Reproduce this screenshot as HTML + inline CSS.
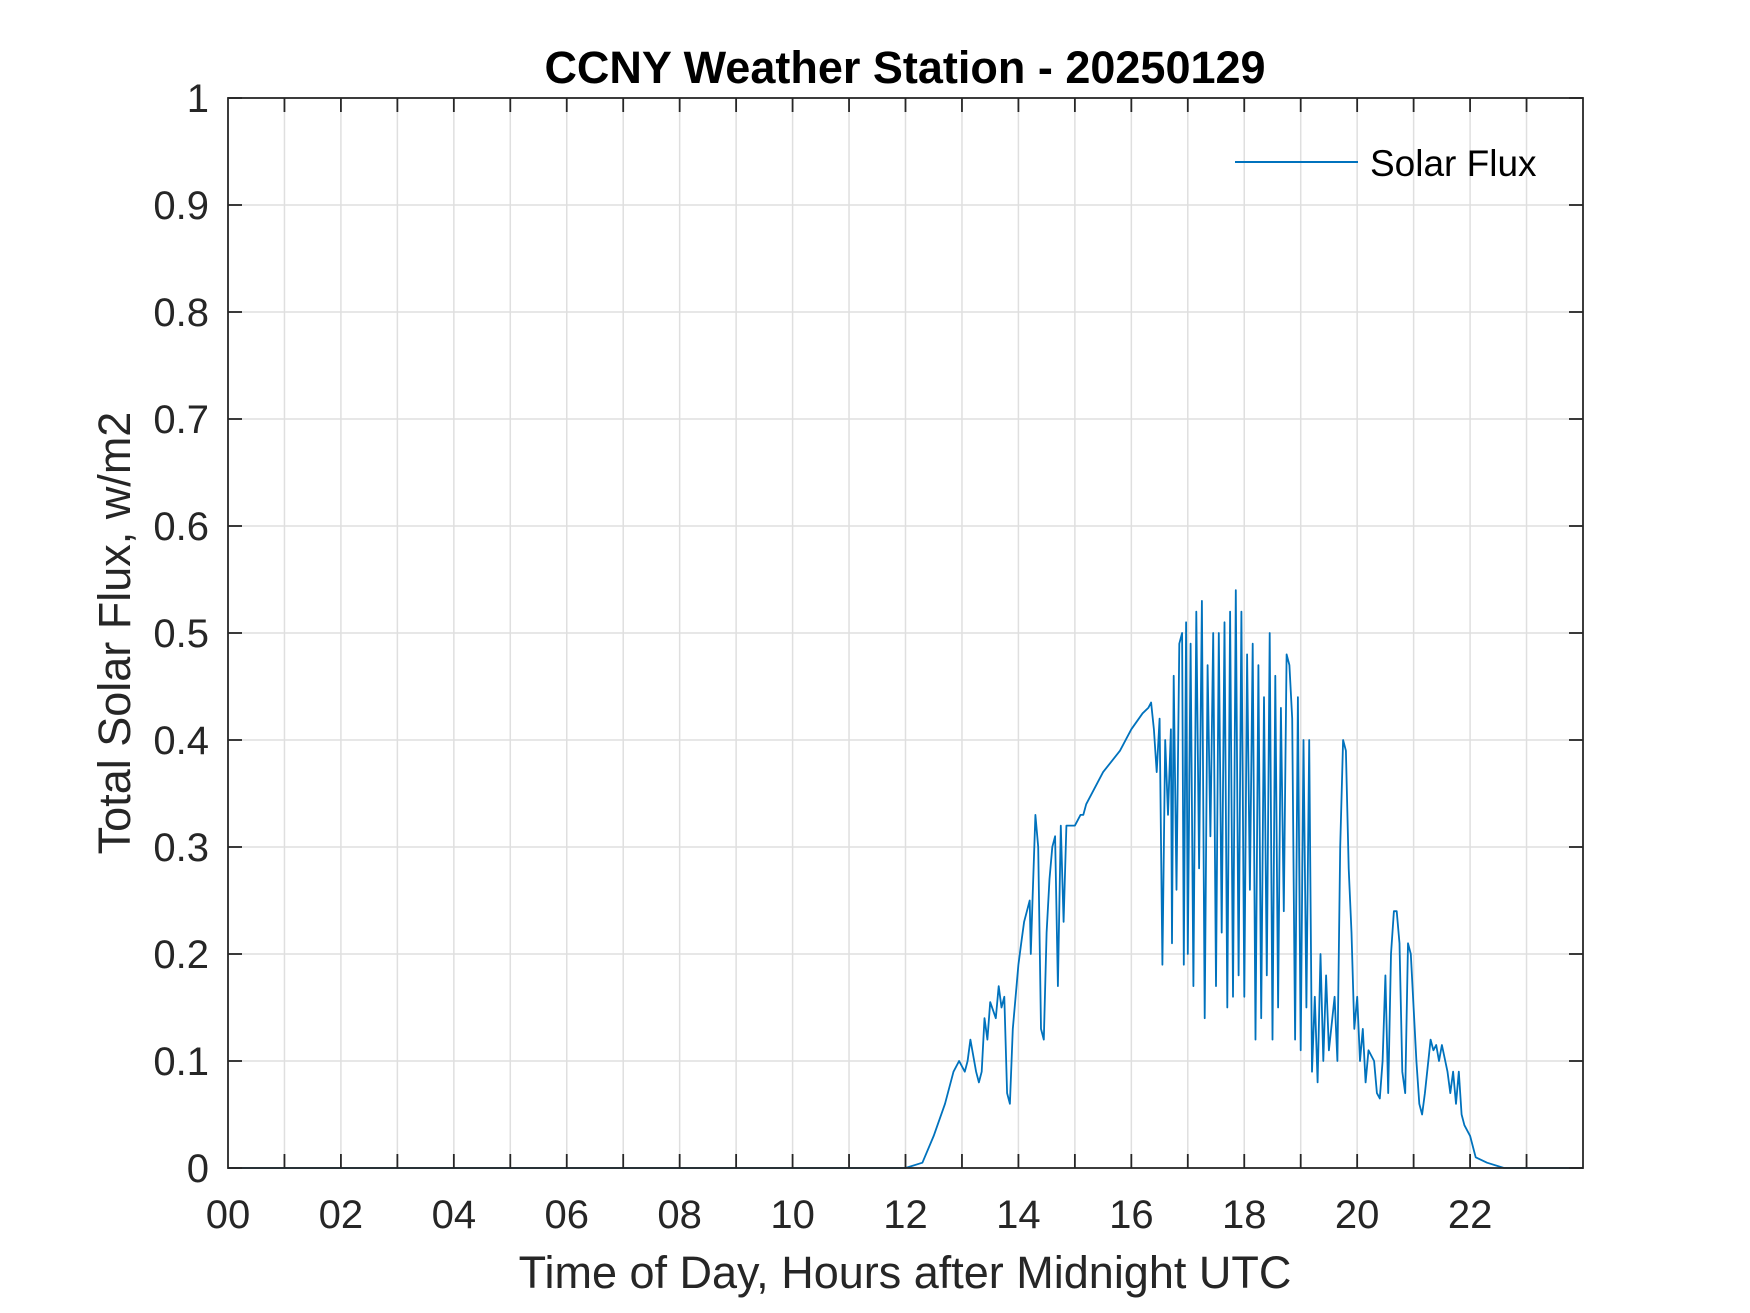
<!DOCTYPE html>
<html><head><meta charset="utf-8"><style>
html,body{margin:0;padding:0;background:#fff;}
svg{display:block;font-family:"Liberation Sans",Arial,sans-serif;}
</style></head><body>
<svg id="chart" width="1750" height="1313" viewBox="0 0 1750 1313" xmlns="http://www.w3.org/2000/svg">
<rect width="1750" height="1313" fill="#fff"/>
<g id="grid"></g>
<g id="series"></g>
<rect x="228" y="98" width="1355" height="1070" fill="none" stroke="#262626" stroke-width="1.8"/>
<g id="ticks"></g>
<text x="905" y="83" text-anchor="middle" font-size="45" font-weight="bold" fill="#000">CCNY Weather Station - 20250129</text>
<text x="905" y="1288" text-anchor="middle" font-size="45" fill="#262626">Time of Day, Hours after Midnight UTC</text>
<text transform="translate(130,633) rotate(-90)" text-anchor="middle" font-size="45" fill="#262626">Total Solar Flux, w/m2</text>
<g>
<line x1="1235" y1="162" x2="1358" y2="162" stroke="#0072BD" stroke-width="2"/>
<text x="1370" y="176" font-size="37" fill="#000">Solar Flux</text>
</g>
</svg>
<script>
const hours = [0,12.0,12.3,12.5,12.7,12.85,12.95,13.05,13.1,13.15,13.25,13.3,13.35,13.4,13.45,13.5,13.6,13.65,13.7,13.75,13.8,13.85,13.9,14.0,14.05,14.1,14.15,14.2,14.22,14.25,14.3,14.35,14.4,14.45,14.5,14.55,14.6,14.65,14.7,14.75,14.8,14.85,14.9,15.0,15.1,15.15,15.2,15.5,15.8,16.0,16.2,16.3,16.35,16.4,16.45,16.5,16.55,16.6,16.65,16.7,16.72,16.75,16.8,16.85,16.9,16.93,16.97,17.0,17.05,17.1,17.15,17.2,17.25,17.3,17.35,17.4,17.45,17.5,17.55,17.6,17.65,17.7,17.75,17.8,17.85,17.9,17.95,18.0,18.05,18.1,18.15,18.2,18.25,18.3,18.35,18.4,18.45,18.5,18.55,18.6,18.65,18.7,18.75,18.8,18.85,18.9,18.95,19.0,19.05,19.1,19.15,19.2,19.25,19.3,19.35,19.4,19.45,19.5,19.6,19.65,19.7,19.75,19.8,19.85,19.9,19.95,20.0,20.05,20.1,20.15,20.2,20.3,20.35,20.4,20.45,20.5,20.55,20.6,20.65,20.7,20.75,20.8,20.85,20.9,20.95,21.0,21.05,21.1,21.15,21.2,21.3,21.35,21.4,21.45,21.5,21.6,21.65,21.7,21.75,21.8,21.85,21.9,22.0,22.05,22.1,22.3,22.6,24];
const flux = [0,0,0.005,0.03,0.06,0.09,0.1,0.09,0.1,0.12,0.09,0.08,0.09,0.14,0.12,0.155,0.14,0.17,0.15,0.16,0.07,0.06,0.13,0.19,0.21,0.23,0.24,0.25,0.2,0.25,0.33,0.3,0.13,0.12,0.22,0.27,0.3,0.31,0.17,0.32,0.23,0.32,0.32,0.32,0.33,0.33,0.34,0.37,0.39,0.41,0.425,0.43,0.435,0.41,0.37,0.42,0.19,0.40,0.33,0.41,0.21,0.46,0.26,0.49,0.5,0.19,0.51,0.2,0.49,0.17,0.52,0.28,0.53,0.14,0.47,0.31,0.5,0.17,0.5,0.22,0.51,0.15,0.52,0.16,0.54,0.18,0.52,0.16,0.48,0.26,0.49,0.12,0.47,0.14,0.44,0.18,0.5,0.12,0.46,0.15,0.43,0.24,0.48,0.47,0.42,0.12,0.44,0.11,0.40,0.15,0.4,0.09,0.16,0.08,0.2,0.1,0.18,0.11,0.16,0.1,0.3,0.4,0.39,0.28,0.22,0.13,0.16,0.1,0.13,0.08,0.11,0.1,0.07,0.065,0.1,0.18,0.07,0.2,0.24,0.24,0.21,0.09,0.07,0.21,0.2,0.15,0.1,0.06,0.05,0.07,0.12,0.11,0.115,0.1,0.115,0.09,0.07,0.09,0.06,0.09,0.05,0.04,0.03,0.02,0.01,0.005,0,0];
const xTickLabels = ["00","02","04","06","08","10","12","14","16","18","20","22"];
const yTickLabels = ["0","0.1","0.2","0.3","0.4","0.5","0.6","0.7","0.8","0.9","1"];

const X0=228,X1=1583,Y0=1168,Y1=98,XMAX=24;
function xs(h){return X0+(h/XMAX)*(X1-X0);}
function ys(v){return Y0-v*(Y0-Y1);}
const NS="http://www.w3.org/2000/svg";
const grid=document.getElementById('grid'),ticks=document.getElementById('ticks'),series=document.getElementById('series'),svg=document.getElementById('chart');
function mk(tag,attrs,parent){const e=document.createElementNS(NS,tag);for(const k in attrs)e.setAttribute(k,attrs[k]);parent.appendChild(e);return e;}
for(let h=1;h<24;h++){
  const x=xs(h);
  const g=mk('line',{x1:x,y1:Y1,x2:x,y2:Y0,stroke:'#dfdfdf','stroke-width':1.5},grid);
  
  
  const t=mk('line',{x1:x,y1:Y0,x2:x,y2:Y0-14,stroke:'#262626','stroke-width':1.8},ticks);
  
  
  const t2=mk('line',{x1:x,y1:Y1,x2:x,y2:Y1+14,stroke:'#262626','stroke-width':1.8},ticks);
  
  
}
xTickLabels.forEach((lab,i)=>{
  const l=mk('text',{x:xs(i*2),y:1228,'text-anchor':'middle','font-size':40,fill:'#262626'},svg);
  l.textContent=lab;
  
  
});
yTickLabels.forEach((lab,i)=>{
  const v=i/10,y=ys(v);
  if(i>0&&i<10){
    const g=mk('line',{x1:X0,y1:y,x2:X1,y2:y,stroke:'#dfdfdf','stroke-width':1.5},grid);
    
    
  }
  const t=mk('line',{x1:X0,y1:y,x2:X0+14,y2:y,stroke:'#262626','stroke-width':1.8},ticks);
  
  
  const t2=mk('line',{x1:X1,y1:y,x2:X1-14,y2:y,stroke:'#262626','stroke-width':1.8},ticks);
  
  
  const l=mk('text',{x:209,y:y+14,'text-anchor':'end','font-size':40,fill:'#262626'},svg);
  l.textContent=lab;
  
  
});
const pts=hours.map((h,i)=>xs(h).toFixed(1)+','+ys(flux[i]).toFixed(1)).join(' ');
const pl=mk('polyline',{points:pts,fill:'none',stroke:'#0072BD','stroke-width':1.8,'stroke-linejoin':'round'},series);


</script>
</body></html>
